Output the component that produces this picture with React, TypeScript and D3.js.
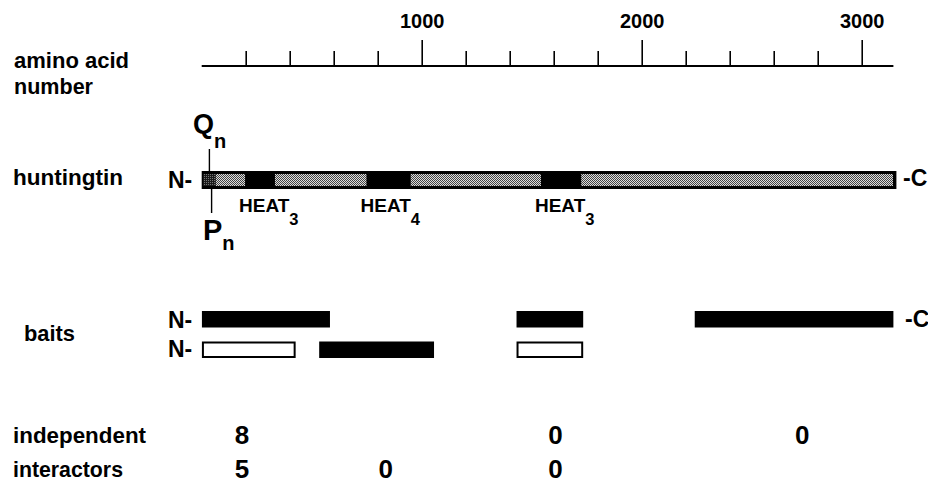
import React, { useRef, useEffect } from 'react';
import * as d3 from 'd3';

// amino acid ruler
const proteinLength = 3144;
const minorTicks = [200, 400, 600, 800, 1200, 1400, 1600, 1800, 2200, 2400, 2600, 2800];
const majorTicks = [1000, 2000, 3000];

// huntingtin features (aa)
const polyRegion = [0, 64];
const heatRepeats = [
  { start: 197, end: 333, label: 'HEAT', sub: '3' },
  { start: 749, end: 950, label: 'HEAT', sub: '4' },
  { start: 1542, end: 1725, label: 'HEAT', sub: '3' },
];
const polyQ = 35;
const polyP = 45;

// two-hybrid baits, row 0 and row 1
const baits = [
  { row: 0, start: 1, end: 583, filled: true },
  { row: 0, start: 1431, end: 1734, filled: true },
  { row: 0, start: 2241, end: 3144, filled: true },
  { row: 1, start: 1, end: 427, filled: false },
  { row: 1, start: 534, end: 1056, filled: true },
  { row: 1, start: 1431, end: 1734, filled: false },
];

// counts under the baits
const independent = [
  { pos: 183, value: '8' },
  { pos: 1608, value: '0' },
  { pos: 2730, value: '0' },
];
const interactors = [
  { pos: 183, value: '5' },
  { pos: 837, value: '0' },
  { pos: 1608, value: '0' },
];

const font = '"Liberation Sans", Arial, Helvetica, sans-serif';

function Label({ x, y, w, size = 22, children }: { x: number; y: number; w: number; size?: number; children: string }) {
  return (
    <text
      x={x}
      y={y}
      fontFamily={font}
      fontWeight="bold"
      fontSize={size}
      textLength={w}
      lengthAdjust="spacingAndGlyphs"
    >
      {children}
    </text>
  );
}

export default function App() {
  const axisRef = useRef<SVGGElement>(null);
  const width = 928;
  const height = 486;

  const x = d3.scaleLinear().domain([0, proteinLength]).range([201.7, 893.4]);

  const axisY = 66;
  const barTop = 171;
  const barH = 18;
  const baitY = [311, 341.5];
  const baitH = 16.5;

  // stippled gaps between the HEAT repeats
  const gaps: number[][] = [];
  let prev = polyRegion[1];
  heatRepeats.forEach(h => {
    gaps.push([prev, h.start]);
    prev = h.end;
  });
  gaps.push([prev, proteinLength - 2]);

  useEffect(() => {
    const g = d3.select(axisRef.current);
    g.selectAll('*').remove();

    const minor = d3.axisTop(x).tickValues(minorTicks).tickSize(15).tickFormat(() => '');
    const major = d3.axisTop(x).tickValues(majorTicks).tickSize(26).tickPadding(12).tickFormat(d3.format('d'));

    g.append('g').call(minor);
    g.append('g').call(major);

    g.selectAll('.domain').remove();
    g.selectAll('line').attr('stroke', '#000').attr('stroke-width', 1.6);
    g.selectAll('text')
      .attr('fill', '#000')
      .attr('font-size', 20)
      .attr('font-weight', 'bold')
      .attr('font-family', font);

    g.append('line')
      .attr('x1', x(0))
      .attr('x2', x(proteinLength))
      .attr('y1', 0)
      .attr('y2', 0)
      .attr('stroke', '#000')
      .attr('stroke-width', 1.8);
  }, []);

  const bold = { fontFamily: font, fontWeight: 'bold' as const, fontSize: 23 };

  return (
    <svg
      width={width}
      height={height}
      style={{ position: 'absolute', left: 0, top: 0, background: '#fff' }}
    >
      <defs>
        <pattern id="stip" width="2" height="2" patternUnits="userSpaceOnUse">
          <rect width="2" height="2" fill="#dcdcdc" />
          <rect x="0" y="0" width="1" height="1" fill="#444" />
          <rect x="1" y="1" width="1" height="1" fill="#444" />
        </pattern>
        <pattern id="darkstip" width="2" height="2" patternUnits="userSpaceOnUse">
          <rect width="2" height="2" fill="#1a1a1a" />
          <rect x="0" y="0" width="1" height="1" fill="#777" />
        </pattern>
      </defs>

      <rect width={width} height={height} fill="#fff" />

      {/* ruler */}
      <g ref={axisRef} transform={`translate(0,${axisY})`} />
      <Label x={14} y={68} w={115} size={21.5}>amino acid</Label>
      <Label x={14} y={94} w={79} size={21.5}>number</Label>

      {/* huntingtin */}
      <Label x={13} y={185} w={110}>huntingtin</Label>
      <text x={168} y={188} {...bold}>N-</text>
      <text x={903} y={186} {...bold}>-C</text>

      <rect x={x(0)} y={barTop} width={x(proteinLength) - x(0) + 3} height={barH} fill="#000" />
      <rect
        x={x(polyRegion[0]) + 1.5}
        y={barTop + 3}
        width={x(polyRegion[1]) - x(polyRegion[0]) - 1.5}
        height={barH - 6}
        fill="url(#darkstip)"
      />
      {gaps.map((gp, i) => (
        <rect
          key={i}
          x={x(gp[0])}
          y={barTop + 3}
          width={x(gp[1]) - x(gp[0])}
          height={barH - 6}
          fill="url(#stip)"
        />
      ))}
      {heatRepeats.map((h, i) => (
        <text key={i} x={x(h.start) - 6} y={211.5} fontFamily={font} fontWeight="bold" fontSize={19}>
          {h.label}
          <tspan fontSize={16.5} dy={13}>{h.sub}</tspan>
        </text>
      ))}

      {/* polyQ / polyP */}
      <line x1={x(polyQ)} x2={x(polyQ)} y1={149} y2={barTop} stroke="#000" strokeWidth={1.4} />
      <line x1={x(polyP)} x2={x(polyP)} y1={barTop + barH} y2={213} stroke="#000" strokeWidth={1.4} />
      <text x={193} y={133} fontFamily={font} fontWeight="bold" fontSize={27}>
        Q<tspan fontSize={20} dy={14.5}>n</tspan>
      </text>
      <text x={203} y={240} fontFamily={font} fontWeight="bold" fontSize={29}>
        P<tspan fontSize={20} dy={10}>n</tspan>
      </text>

      {/* baits */}
      <Label x={24} y={341} w={51}>baits</Label>
      <text x={168} y={328} {...bold}>N-</text>
      <text x={168} y={357} {...bold}>N-</text>
      <text x={905} y={327} {...bold}>-C</text>
      {baits.map((b, i) =>
        b.filled ? (
          <rect key={i} x={x(b.start)} y={baitY[b.row]} width={x(b.end) - x(b.start)} height={baitH} fill="#000" />
        ) : (
          <rect
            key={i}
            x={x(b.start) + 1}
            y={baitY[b.row] + 1}
            width={x(b.end) - x(b.start) - 2}
            height={baitH - 2}
            fill="#fff"
            stroke="#000"
            strokeWidth={2}
          />
        )
      )}

      {/* counts */}
      <Label x={13} y={443} w={133}>independent</Label>
      <Label x={13} y={477} w={110}>interactors</Label>
      {independent.map((c, i) => (
        <text key={i} x={x(c.pos)} y={444} textAnchor="middle" fontFamily={font} fontWeight="bold" fontSize={26}>
          {c.value}
        </text>
      ))}
      {interactors.map((c, i) => (
        <text key={i} x={x(c.pos)} y={478} textAnchor="middle" fontFamily={font} fontWeight="bold" fontSize={26}>
          {c.value}
        </text>
      ))}
    </svg>
  );
}
